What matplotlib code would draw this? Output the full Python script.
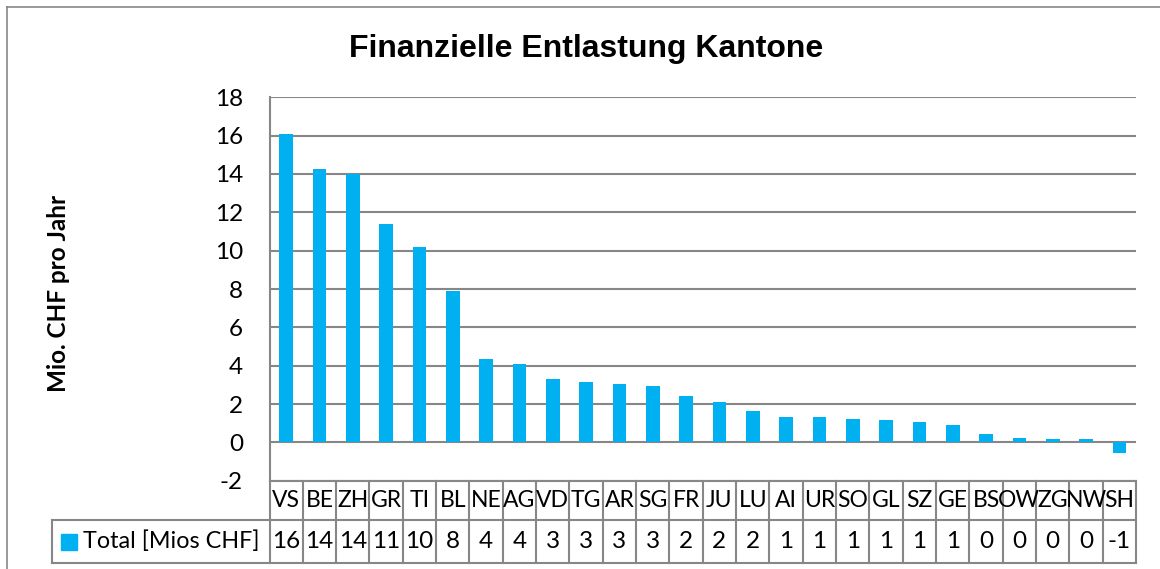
import matplotlib
matplotlib.use("Agg")
import matplotlib.pyplot as plt
from matplotlib.transforms import blended_transform_factory
from matplotlib.lines import Line2D
from matplotlib.patches import Rectangle

cantons = ["VS", "BE", "ZH", "GR", "TI", "BL", "NE", "AG", "VD", "TG", "AR", "SG", "FR",
           "JU", "LU", "AI", "UR", "SO", "GL", "SZ", "GE", "BS", "OW", "ZG", "NW", "SH"]
values = [16.08, 14.24, 13.98, 11.40, 10.18, 7.88, 4.36, 4.10, 3.33, 3.16, 3.02, 2.96, 2.44,
          2.08, 1.64, 1.34, 1.33, 1.22, 1.15, 1.08, 0.92, 0.45, 0.25, 0.19, 0.19, -0.54]
series_name = "Total [Mios CHF]"
title = "Finanzielle Entlastung Kantone"
ylabel = "Mio. CHF pro Jahr"
yticks = list(range(-2, 19, 2))

W, H = 1160, 569
BAR = "#00B0F0"
GRID = "#878787"
FONT = "Lato"

fig = plt.figure(figsize=(W / 100, H / 100), dpi=100)
fig.patch.set_facecolor("white")

def fx(px):
    return px / W

def fy(py):  # py measured from top
    return 1 - py / H

left_px, right_px, top_px, bot_px = 269.5, 1136.0, 97.3, 480.7
ax = fig.add_axes([fx(left_px), fy(bot_px), fx(right_px - left_px), (bot_px - top_px) / H])

x = list(range(len(cantons)))
ax.bar(x, values, width=0.41, color=BAR, zorder=3)
ax.set_xlim(-0.5, len(cantons) - 0.5)
ax.set_ylim(-2, 18)
ax.set_yticks(yticks)
ax.set_yticklabels([str(t) for t in yticks], fontfamily=FONT, fontsize=17.5, color="black")
ax.tick_params(axis="y", length=0, pad=19)
ax.set_xticks([])
ax.yaxis.grid(True, color=GRID, linewidth=1.5, zorder=0)
ax.set_axisbelow(True)
for s in ["top", "right", "bottom"]:
    ax.spines[s].set_visible(False)
ax.spines["left"].set_color(GRID)
ax.spines["left"].set_linewidth(1.5)

# Title and y label
fig.text(fx(586), fy(56.7), title, ha="center", va="baseline",
         fontfamily="Liberation Sans", fontweight="bold", fontsize=23)
fig.text(fx(59), fy(293), ylabel, ha="center", va="center", rotation=90,
         fontfamily=FONT, fontweight="bold", fontsize=17.5)

# Data table
tr = blended_transform_factory(ax.transData, fig.transFigure)
row1_top, row1_bot, row2_bot = 480.7, 520.3, 562.7
lw = 1.5
for i in range(len(cantons) + 1):
    xi = i - 0.5
    fig.add_artist(Line2D([xi, xi], [fy(row1_top), fy(row2_bot)], transform=tr,
                          color=GRID, linewidth=lw, clip_on=False))
fig.add_artist(Line2D([fx(52.3), fx(right_px)], [fy(row1_bot), fy(row1_bot)],
                      transform=fig.transFigure, color=GRID, linewidth=lw))
fig.add_artist(Line2D([fx(52.3), fx(right_px)], [fy(row2_bot), fy(row2_bot)],
                      transform=fig.transFigure, color=GRID, linewidth=lw))
fig.add_artist(Line2D([fx(52.3), fx(52.3)], [fy(row1_bot), fy(row2_bot)],
                      transform=fig.transFigure, color=GRID, linewidth=lw))
fig.add_artist(Line2D([fx(left_px), fx(right_px)], [fy(row1_top), fy(row1_top)],
                      transform=fig.transFigure, color=GRID, linewidth=lw))

yc1 = fy((row1_top + row1_bot) / 2)
yc2 = fy((row1_bot + row2_bot) / 2)
for i, (c, v) in enumerate(zip(cantons, values)):
    fig.text(i, yc1, c, transform=tr, ha="center", va="center",
             fontfamily=FONT, fontsize=16.5)
    fig.text(i, yc2, f"{v:.0f}", transform=tr, ha="center", va="center",
             fontfamily=FONT, fontsize=17.5)

fig.add_artist(Rectangle((fx(61), fy(550)), fx(15.7), 15.7 / H,
                         transform=fig.transFigure, color=BAR))
fig.text(fx(82.7), yc2, series_name, ha="left", va="center",
         fontfamily=FONT, fontsize=16.8)

# Outer chart border (top and left visible)
fig.add_artist(Line2D([fx(6.7), fx(1160)], [fy(7.3), fy(7.3)],
                      transform=fig.transFigure, color=GRID, linewidth=1.2))
fig.add_artist(Line2D([fx(6.7), fx(6.7)], [fy(7.3), fy(569)],
                      transform=fig.transFigure, color=GRID, linewidth=1.2))

fig.savefig("out.png", dpi=100)
